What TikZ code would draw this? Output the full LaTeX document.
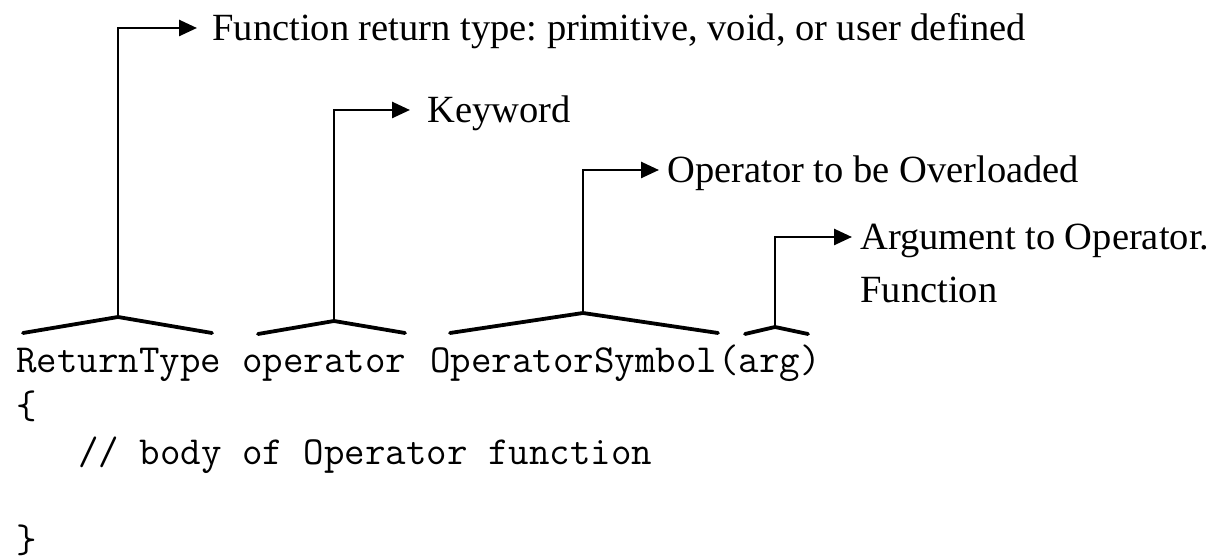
\documentclass[tikz,border=0pt]{standalone}
\usepackage{fontspec}
\setmainfont{Liberation Serif}
\usetikzlibrary{arrows.meta}
\frenchspacing

\tikzset{
	lbl/.style={anchor=west, inner xsep=4pt, inner ysep=2pt, text height=13pt, text depth=0pt, font=\fontsize{19.25}{25}\selectfont},
	code/.style={anchor=base west, inner sep=0pt, font=\ttfamily\fontsize{19.9}{23}\selectfont},
	brace/.style={line width=1.9pt, line join=round, line cap=round},
	conn/.style={line width=1.3pt, -{Triangle[length=9pt,width=8pt]}}
}

\begin{document}
\begin{tikzpicture}[x=0.5pt, y=-0.5pt]
			%%%%% START %%%%%
			\useasboundingbox (0,0) rectangle (1212,560);
			
			\node[lbl] (retLbl) at (204,28) {Function return type: primitive, void, or user defined};
			\node[lbl] (kwLbl) at (419,110) {Keyword};
			\node[lbl] (symLbl) at (659,170) {Operator to be Overloaded};
			\node[lbl] (argLbl) at (852,237) {Argument to Operator.};
			\node[lbl, anchor=base west] (argLblB) at (852,303) {Function};
			
			\node[code] (rtype) at (16,373) {ReturnType};
			\node[code] (opkw) at (242,373) {operator};
			\node[code] (opsym) at (430,373) {OperatorSymbol};
			\node[code] (arg) at (opsym.base east) {(arg)};
			\node[code] (lbrace) at (16,419) {\{};
			\node[code] (body) at (78,465) {// body of Operator function};
			\node[code] (rbrace) at (16,553) {\}};
			
			\coordinate (pk1) at (118,317);
			\draw[brace] (23,333) -- (pk1) -- (212,333);
			\coordinate (pk2) at (334,321);
			\draw[brace] (258,334) -- (pk2) -- (405,333);
			\coordinate (pk3) at (583,313);
			\draw[brace] (450,333) -- (pk3) -- (718,333);
			\coordinate (pk4) at (775,327);
			\draw[brace] (745,334) -- (pk4) -- (808,334);
			
			\draw[conn, shorten >=3.5pt] (pk1) |- (retLbl.west);
			\draw[conn, shorten >=4.5pt] (pk2) |- (kwLbl.west);
			\draw[conn] (pk3) |- (symLbl.west);
			\draw[conn] (pk4) |- (argLbl.west);
			
			%%%%% END %%%%%
\end{tikzpicture}
\end{document}
